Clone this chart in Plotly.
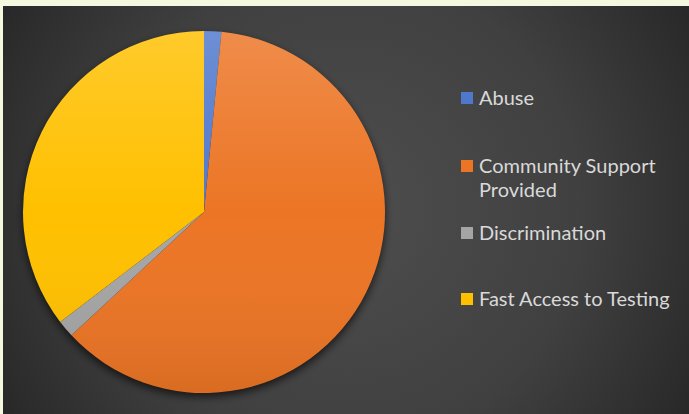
import base64
import textwrap
import plotly.graph_objects as go

# Survey responses by category
labels = ["Abuse", "Community Support Provided", "Discrimination", "Fast Access to Testing"]
values = [1, 40, 1, 23]
colors = ["#4F78CC", "#EC7525", "#A5A5A5", "#FFC000"]

W, H = 689, 414
CREAM = "#F3F8DF"
TEXT = "#D9D9D9"

# pie placement in pixels
cx, cy, r = 204, 212, 181


def px(x):
    return x / W


def py(y):
    return 1 - y / H


def svg_uri(svg):
    return "data:image/svg+xml;base64," + base64.b64encode(svg.encode()).decode()


# dark radial backdrop with a soft shadow under the pie
bg_svg = f"""<svg xmlns='http://www.w3.org/2000/svg' width='{W}' height='{H}' viewBox='0 0 {W} {H}'>
<defs>
<radialGradient id='g' cx='{(W + 3) / 2}' cy='{(H + 6) / 2}' r='{W * 0.62}' gradientUnits='userSpaceOnUse'>
<stop offset='0' stop-color='#4E4E4E'/>
<stop offset='0.55' stop-color='#404040'/>
<stop offset='1' stop-color='#242424'/>
</radialGradient>
<filter id='b' x='-20%' y='-20%' width='140%' height='140%'><feGaussianBlur stdDeviation='4'/></filter>
</defs>
<rect x='0' y='0' width='{W}' height='{H}' fill='{CREAM}'/>
<rect x='3' y='6' width='{W - 3}' height='{H - 6}' fill='url(#g)'/>
<circle cx='{cx}' cy='{cy + 4}' r='{r}' fill='#000' fill-opacity='0.65' filter='url(#b)'/>
</svg>"""

# light-to-dark sheen over the slices
sheen_svg = f"""<svg xmlns='http://www.w3.org/2000/svg' width='{W}' height='{H}' viewBox='0 0 {W} {H}'>
<defs>
<linearGradient id='s' x1='0' y1='{cy - r}' x2='0' y2='{cy + r}' gradientUnits='userSpaceOnUse'>
<stop offset='0' stop-color='#FFFFFF' stop-opacity='0.17'/>
<stop offset='0.5' stop-color='#FFFFFF' stop-opacity='0.0'/>
<stop offset='1' stop-color='#000000' stop-opacity='0.08'/>
</linearGradient>
</defs>
<circle cx='{cx}' cy='{cy}' r='{r}' fill='url(#s)'/>
</svg>"""

fig = go.Figure(
    go.Pie(
        labels=labels,
        values=values,
        marker=dict(colors=colors, line=dict(width=0)),
        sort=False,
        direction="clockwise",
        rotation=0,
        textinfo="none",
        hoverinfo="label+percent",
        showlegend=False,
        domain=dict(x=[px(cx - r), px(cx + r)], y=[py(cy + r), py(cy - r)]),
    )
)

images = [
    dict(source=svg_uri(bg_svg), xref="paper", yref="paper", x=0, y=1,
         sizex=1, sizey=1, xanchor="left", yanchor="top", sizing="stretch", layer="below"),
    dict(source=svg_uri(sheen_svg), xref="paper", yref="paper", x=0, y=1,
         sizex=1, sizey=1, xanchor="left", yanchor="top", sizing="stretch", layer="above"),
]

# legend drawn beside the pie
legend_rows = [98, 166, 233, 299]
line_step = 24.5
text_shift = -1.5
sq = 12
shapes = []
annotations = []
for lab, col, yc in zip(labels, colors, legend_rows):
    shapes.append(dict(type="rect", xref="paper", yref="paper",
                       x0=px(461), x1=px(461 + sq), y0=py(yc + sq / 2), y1=py(yc - sq / 2),
                       fillcolor=col, line=dict(width=0)))
    for i, line in enumerate(textwrap.wrap(lab, 22)):
        annotations.append(dict(text=line, xref="paper", yref="paper",
                                x=px(477), y=py(yc + text_shift + i * line_step),
                                xanchor="left", yanchor="middle", showarrow=False,
                                font=dict(family="Lato", size=20, color=TEXT)))

fig.update_layout(
    width=W,
    height=H,
    margin=dict(l=0, r=0, t=0, b=0),
    paper_bgcolor=CREAM,
    plot_bgcolor=CREAM,
    images=images,
    shapes=shapes,
    annotations=annotations,
)

fig.write_html("out.html")
